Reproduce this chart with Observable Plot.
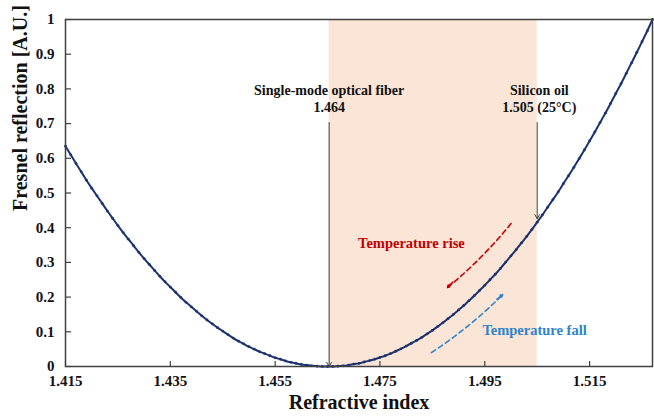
<!DOCTYPE html>
<html>
<head>
<meta charset="utf-8">
<script src="https://cdn.jsdelivr.net/npm/d3@7"></script>
<script src="https://cdn.jsdelivr.net/npm/@observablehq/plot@0.6"></script>
<style>
  html, body { margin: 0; padding: 0; background: #fff; }
  #chart svg { display: block; overflow: visible; }
</style>
</head>
<body>
<div id="chart"></div>
<script>
// Refractive index samples (x) and normalized Fresnel reflection (y)
const refractiveIndex = [
  1.415,1.416,1.417,1.418,1.419,1.420,1.421,1.422,1.423,1.424,
  1.425,1.426,1.427,1.428,1.429,1.430,1.431,1.432,1.433,1.434,
  1.435,1.436,1.437,1.438,1.439,1.440,1.441,1.442,1.443,1.444,
  1.445,1.446,1.447,1.448,1.449,1.450,1.451,1.452,1.453,1.454,
  1.455,1.456,1.457,1.458,1.459,1.460,1.461,1.462,1.463,1.464,
  1.465,1.466,1.467,1.468,1.469,1.470,1.471,1.472,1.473,1.474,
  1.475,1.476,1.477,1.478,1.479,1.480,1.481,1.482,1.483,1.484,
  1.485,1.486,1.487,1.488,1.489,1.490,1.491,1.492,1.493,1.494,
  1.495,1.496,1.497,1.498,1.499,1.500,1.501,1.502,1.503,1.504,
  1.505,1.506,1.507,1.508,1.509,1.510,1.511,1.512,1.513,1.514,
  1.515,1.516,1.517,1.518,1.519,1.520,1.521,1.522,1.523,1.524,
  1.525,1.526,1.527
];
const fresnelReflection = [
  0.635,0.610,0.585,0.561,0.537,0.514,0.492,0.470,0.448,0.427,
  0.406,0.386,0.367,0.348,0.329,0.311,0.294,0.277,0.260,0.244,
  0.229,0.214,0.199,0.185,0.172,0.159,0.146,0.134,0.123,0.112,
  0.102,0.092,0.082,0.073,0.065,0.057,0.050,0.043,0.037,0.031,
  0.025,0.021,0.016,0.012,0.009,0.006,0.004,0.002,0.001,0.000,
  0.000,0.000,0.001,0.002,0.004,0.007,0.009,0.013,0.017,0.021,
  0.026,0.031,0.037,0.044,0.051,0.059,0.067,0.075,0.084,0.094,
  0.104,0.115,0.126,0.138,0.150,0.163,0.176,0.190,0.204,0.219,
  0.234,0.250,0.266,0.283,0.301,0.319,0.337,0.356,0.375,0.395,
  0.416,0.437,0.459,0.481,0.503,0.527,0.550,0.574,0.599,0.624,
  0.650,0.676,0.703,0.730,0.758,0.787,0.815,0.845,0.875,0.905,
  0.936,0.967,1.000
];

const xTicks = [1.415, 1.435, 1.455, 1.475, 1.495, 1.515];
const yTicks = [0, 0.1, 0.2, 0.3, 0.4, 0.5, 0.6, 0.7, 0.8, 0.9, 1];

// Annotations
const fiberIndex = 1.4653;     // where the fiber marker sits on the axis
const oilIndex = 1.505;
const oilReflection = 0.426;
const markerTop = 0.703;
const shadedBand = [{x1: fiberIndex, x2: oilIndex}];
const markerArrows = [
  {x: fiberIndex, y1: markerTop, y2: 0.0},
  {x: oilIndex, y1: markerTop, y2: oilReflection}
];
const markerLabels = [
  {x: fiberIndex, y: 0.795, text: "Single-mode optical fiber"},
  {x: fiberIndex, y: 0.745, text: "1.464"},
  {x: 1.5054, y: 0.795, text: "Silicon oil"},
  {x: 1.5054, y: 0.745, text: "1.505 (25°C)"}
];
const riseArrow = {x1: 1.5000, y1: 0.412, x2: 1.4879, y2: 0.228};
const fallArrow = {x1: 1.4848, y1: 0.040, x2: 1.4984, y2: 0.207};
const tempLabels = [
  {x: 1.4810, y: 0.355, text: "Temperature rise", color: "#c00000"},
  {x: 1.5045, y: 0.104, text: "Temperature fall", color: "#2e83cc"}
];

const data = refractiveIndex.map((n, i) => ({n, r: fresnelReflection[i]}));
const navy = "#1c3370";
const serif = "'Liberation Serif', 'Times New Roman', serif";

// small solid head segment near the end of each dashed arrow
function headSeg(a, f) {
  return {x1: a.x2 - (a.x2 - a.x1) * f, y1: a.y2 - (a.y2 - a.y1) * f, x2: a.x2, y2: a.y2};
}

const chart = Plot.plot({
  width: 654,
  height: 416,
  marginLeft: 65,
  marginRight: 2,
  marginTop: 19,
  marginBottom: 50,
  style: {fontFamily: serif, fontWeight: "bold", background: "#fff", overflow: "visible"},
  x: {domain: [1.415, 1.527]},
  y: {domain: [0, 1]},
  marks: [
    Plot.rect(shadedBand, {x1: "x1", x2: "x2", y1: 0, y2: 1, fill: "#fbe5d6"}),
    Plot.tickX(xTicks, {x: d => d, insetTop: 342, stroke: "#404040", strokeWidth: 1.2}),
    Plot.tickY(yTicks, {y: d => d, insetRight: 581, stroke: "#404040", strokeWidth: 1.2}),
    Plot.axisX({ticks: xTicks, tickSize: 0, tickPadding: 9, tickFormat: d3.format(".3f"),
      label: null, fontSize: 15, fill: "#111"}),
    Plot.axisY({ticks: yTicks, tickSize: 0, tickPadding: 11, tickFormat: d => d3.format("")(+d.toFixed(1)),
      label: null, fontSize: 15, fill: "#111"}),
    Plot.arrow(markerArrows, {x: "x", y1: "y1", y2: "y2", stroke: "#404040", strokeWidth: 1,
      headLength: 7, insetEnd: 0}),
    Plot.text(markerLabels, {x: "x", y: "y", text: "text", fontSize: 14, fill: "#111"}),
    // temperature arrows (dashed bodies + solid heads)
    Plot.arrow([riseArrow], {x1: "x1", y1: "y1", x2: "x2", y2: "y2", bend: 6,
      stroke: "#c00000", strokeWidth: 1.6, strokeDasharray: "5,3.5", headLength: 0}),
    Plot.arrow([headSeg(riseArrow, 0.08)], {x1: "x1", y1: "y1", x2: "x2", y2: "y2",
      stroke: "#c00000", strokeWidth: 1.6, headLength: 8}),
    Plot.arrow([fallArrow], {x1: "x1", y1: "y1", x2: "x2", y2: "y2", bend: -6,
      stroke: "#2e83cc", strokeWidth: 1.6, strokeDasharray: "5,3.5", headLength: 0}),
    Plot.arrow([headSeg(fallArrow, 0.08)], {x1: "x1", y1: "y1", x2: "x2", y2: "y2",
      stroke: "#2e83cc", strokeWidth: 1.6, headLength: 8}),
    Plot.text(tempLabels, {x: "x", y: "y", text: "text", fill: "color", fontSize: 14.5}),
    // curve
    Plot.line(data, {x: "n", y: "r", stroke: navy, strokeWidth: 2, curve: "natural"}),
    Plot.dot(data, {x: "n", y: "r", r: 1.4, fill: navy}),
    Plot.frame({stroke: "#404040", strokeWidth: 1.5}),
    // axis titles
    Plot.text(["Refractive index"], {frameAnchor: "bottom", dy: 42, fontSize: 20, fill: "#111", text: d => d}),
    Plot.text(["Fresnel reflection [A.U.]"], {frameAnchor: "left", dx: -45, dy: 18, rotate: -90, fontSize: 20, fill: "#111", text: d => d})
  ]
});
document.getElementById("chart").append(chart);
</script>
</body>
</html>
